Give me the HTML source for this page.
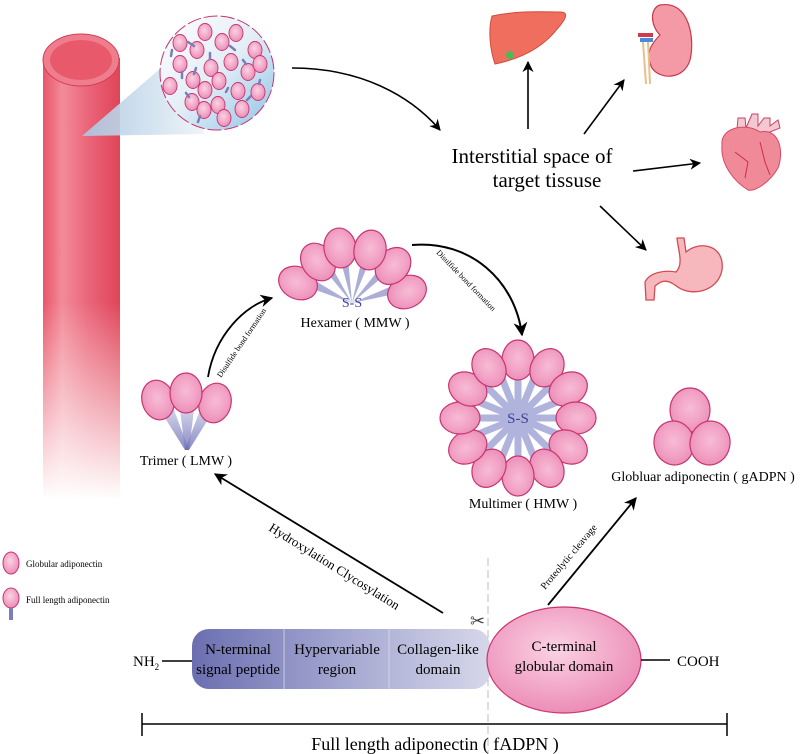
<!DOCTYPE html>
<html><head><meta charset="utf-8"><style>
html,body{margin:0;padding:0;background:#fff;}
svg{display:block;font-family:"Liberation Serif",serif;}
</style></head><body>
<svg width="800" height="754" viewBox="0 0 800 754" xmlns="http://www.w3.org/2000/svg">
<defs>
<radialGradient id="pk" cx="50%" cy="45%" r="55%"><stop offset="0" stop-color="#f7bcd5"/><stop offset="0.6" stop-color="#f2a3c6"/><stop offset="1" stop-color="#eb8fb9"/></radialGradient>
<radialGradient id="pk2" cx="45%" cy="40%" r="60%"><stop offset="0" stop-color="#fbd3e3"/><stop offset="1" stop-color="#ec8db8"/></radialGradient>
<linearGradient id="vessel" x1="0" x2="1"><stop offset="0" stop-color="#e9556a"/><stop offset="0.25" stop-color="#f28b98"/><stop offset="0.6" stop-color="#ea6478"/><stop offset="1" stop-color="#e04458"/></linearGradient>
<linearGradient id="fade" x1="0" y1="0" x2="0" y2="1"><stop offset="0" stop-color="#fff" stop-opacity="0"/><stop offset="0.55" stop-color="#fff" stop-opacity="0"/><stop offset="1" stop-color="#fff" stop-opacity="1"/></linearGradient>
<linearGradient id="zoomg" x1="0" y1="0" x2="1" y2="1"><stop offset="0" stop-color="#fff"/><stop offset="0.5" stop-color="#e3eef6"/><stop offset="1" stop-color="#8cc3e6"/></linearGradient>
<linearGradient id="cone" x1="0" x2="1"><stop offset="0" stop-color="#a9c8e2"/><stop offset="1" stop-color="#eef3f8"/></linearGradient>
<linearGradient id="bar" x1="0" x2="1"><stop offset="0" stop-color="#6b6fb0"/><stop offset="0.5" stop-color="#a3a6d0"/><stop offset="1" stop-color="#d6d7ea"/></linearGradient>
<linearGradient id="stem" x1="0" y1="0" x2="0" y2="1"><stop offset="0" stop-color="#c5c7e4"/><stop offset="1" stop-color="#6d6fb5"/></linearGradient>
<marker id="ah" viewBox="0 0 10 10" refX="9" refY="5" markerWidth="7" markerHeight="7" orient="auto"><path d="M0,0 L10,5 L0,10 L3,5 z" fill="#000"/></marker>
<g id="lobe"><ellipse cx="0" cy="0" rx="16" ry="20" fill="url(#pk)" stroke="#c8356f" stroke-width="1.2"/></g>
<g id="blobe"><ellipse cx="0" cy="0" rx="20" ry="22" fill="url(#pk)" stroke="#c8356f" stroke-width="1.2"/></g>
<g id="sm"><ellipse cx="0" cy="0" rx="7" ry="8.5" fill="url(#pk2)" stroke="#c8356f" stroke-width="0.9"/></g>
</defs>

<rect x="43" y="58" width="77" height="440" fill="url(#vessel)"/>
<rect x="40" y="58" width="83" height="442" fill="url(#fade)"/>
<ellipse cx="81" cy="60" rx="38" ry="26" fill="#ee7e8d" stroke="#d53c52" stroke-width="1"/>
<ellipse cx="81" cy="60" rx="31" ry="20" fill="#e9596c"/>
<polygon points="82,136 168,62 205,134" fill="url(#cone)" opacity="0.9"/>
<circle cx="217" cy="73" r="57" fill="url(#zoomg)" stroke="#c8356f" stroke-width="1" stroke-dasharray="14 3"/>
<g>
<use href="#sm" x="205" y="32"/><use href="#sm" x="236" y="33"/><use href="#sm" x="180" y="43"/><use href="#sm" x="197" y="50"/><use href="#sm" x="222" y="42"/><use href="#sm" x="255" y="50"/>
<use href="#sm" x="180" y="64"/><use href="#sm" x="211" y="68"/><use href="#sm" x="231" y="62"/><use href="#sm" x="248" y="72"/><use href="#sm" x="260" y="64"/>
<use href="#sm" x="170" y="86"/><use href="#sm" x="193" y="80"/><use href="#sm" x="205" y="90"/><use href="#sm" x="219" y="81"/><use href="#sm" x="238" y="91"/><use href="#sm" x="258" y="92"/>
<use href="#sm" x="192" y="102"/><use href="#sm" x="204" y="110"/><use href="#sm" x="218" y="105"/><use href="#sm" x="242" y="109"/><use href="#sm" x="224" y="118"/>
<g stroke="#7b7fb8" stroke-width="2.5" stroke-linecap="round"><line x1="188" y1="42" x2="194" y2="46"/><line x1="210" y1="53" x2="210" y2="59"/><line x1="230" y1="46" x2="235" y2="50"/><line x1="172" y1="50" x2="171" y2="56"/><line x1="243" y1="60" x2="246" y2="64"/><line x1="182" y1="72" x2="182" y2="78"/><line x1="196" y1="68" x2="194" y2="74"/><line x1="228" y1="88" x2="226" y2="92"/><line x1="251" y1="96" x2="247" y2="100"/><line x1="186" y1="93" x2="189" y2="97"/><line x1="200" y1="116" x2="198" y2="122"/><line x1="260" y1="80" x2="259" y2="84"/></g>
</g>
<path d="M292,68 C360,68 410,95 440,130" fill="none" stroke="#000" stroke-width="1.6" marker-end="url(#ah)"/>

<text x="532" y="163" font-size="21" text-anchor="middle">Interstitial space of</text>
<text x="547" y="187" font-size="21" text-anchor="middle">target tissuse</text>
<g stroke="#000" stroke-width="1.6" fill="none" marker-end="url(#ah)">
<line x1="528" y1="129" x2="528" y2="62"/>
<line x1="584" y1="134" x2="624" y2="80"/>
<line x1="633" y1="171" x2="700" y2="163"/>
<line x1="600" y1="206" x2="646" y2="250"/>
</g>
<path d="M492,16 C520,10 545,12 560,12 C570,12 565,20 558,28 C545,45 525,58 495,64 C490,50 488,30 492,16 z" fill="#ef6e5e" stroke="#d24a3c" stroke-width="1"/>
<circle cx="510" cy="55" r="4" fill="#4cb85a"/>
<path d="M660,5 C690,0 695,40 690,60 C684,80 660,80 652,68 C645,55 650,45 660,35 C650,25 650,8 660,5 z" fill="#f49aa6" stroke="#c9374a" stroke-width="1.2"/>
<rect x="638" y="33" width="15" height="4" fill="#d23a4c"/><rect x="640" y="38" width="13" height="4" fill="#4a8ad8"/>
<path d="M643,42 L646,84 M648,42 L650,84" stroke="#e8c08a" stroke-width="2"/>
<path d="M736,140 L738,118 L745,118 L746,128 L752,114 L758,114 L758,126 L764,118 L770,118 L770,126 L778,120 L780,128 L760,136 Z" fill="#f3c8d3" stroke="#c94060" stroke-width="1"/>
<path d="M722,145 C720,128 745,122 760,132 C780,128 784,152 778,168 C770,182 755,192 748,190 C735,182 720,165 722,145 z" fill="#f08a99" stroke="#d44a60" stroke-width="1"/>
<path d="M735,152 L748,162 L745,178 M760,142 L765,162 L770,175" stroke="#c9304a" stroke-width="1" fill="none"/>
<path d="M677,238 L684,238 L686,252 C700,240 725,245 722,270 C718,292 690,298 675,285 C665,278 660,282 655,286 L654,300 L646,300 L645,282 C650,272 665,270 676,272 C684,264 678,250 677,238 z" fill="#f7b8bd" stroke="#d34a55" stroke-width="1.3"/>

<g>
<polygon points="160,410 174,410 189,450 185,450" fill="url(#stem)" opacity="0.8"/>
<polygon points="180,410 194,410 189,450 185,450" fill="url(#stem)" opacity="0.8"/>
<polygon points="200,410 214,410 189,450 185,450" fill="url(#stem)" opacity="0.8"/>
<use href="#lobe" transform="translate(158,400) rotate(-15)"/>
<use href="#lobe" transform="translate(215,403) rotate(15)"/>
<use href="#lobe" transform="translate(186,393)"/>
</g>
<text x="186" y="465" font-size="14" text-anchor="middle">Trimer ( LMW )</text>

<g>
<g fill="#9ea1d2" opacity="0.85">
<polygon points="310,288 314,280 352,303"/><polygon points="323,268 330,264 352,303"/><polygon points="340,258 348,258 352,303"/><polygon points="362,258 370,260 352,303"/><polygon points="380,268 386,274 352,303"/><polygon points="392,286 395,294 352,303"/>
</g>
<use href="#lobe" transform="translate(298,283) rotate(-65)"/>
<use href="#lobe" transform="translate(407,292) rotate(65)"/>
<use href="#lobe" transform="translate(318,262) rotate(-35)"/>
<use href="#lobe" transform="translate(393,266) rotate(40)"/>
<use href="#lobe" transform="translate(340,248) rotate(-8)"/>
<use href="#lobe" transform="translate(370,250) rotate(10)"/>
<text x="352" y="307" font-size="14" fill="#3e4294" text-anchor="middle">S-S</text>
</g>
<text x="355" y="327" font-size="14" text-anchor="middle">Hexamer ( MMW )</text>
<path d="M412,245 C470,240 515,280 522,335" fill="none" stroke="#000" stroke-width="2" marker-end="url(#ah)"/>
<text transform="translate(436,253) rotate(46)" font-size="8">Disulfide bond formation</text>
<path d="M208,377 C215,335 245,305 272,298" fill="none" stroke="#000" stroke-width="1.8" marker-end="url(#ah)"/>
<text transform="translate(221,378) rotate(-56)" font-size="8">Disulfide bond formation</text>

<g transform="translate(518,418)">
<g stroke="#a3a6d6" stroke-width="7" opacity="0.85">
<line x1="-45" y1="0" x2="45" y2="0"/><line x1="0" y1="-45" x2="0" y2="45"/><line x1="-32" y1="-32" x2="32" y2="32"/><line x1="-32" y1="32" x2="32" y2="-32"/>
<line x1="-42" y1="-17" x2="42" y2="17"/><line x1="-42" y1="17" x2="42" y2="-17"/><line x1="-17" y1="-42" x2="17" y2="42"/><line x1="-17" y1="42" x2="17" y2="-42"/>
</g>
<use href="#lobe" transform="rotate(0) translate(0,-58)"/>
<use href="#lobe" transform="rotate(30) translate(0,-58)"/>
<use href="#lobe" transform="rotate(60) translate(0,-58)"/>
<use href="#lobe" transform="rotate(90) translate(0,-58)"/>
<use href="#lobe" transform="rotate(120) translate(0,-58)"/>
<use href="#lobe" transform="rotate(150) translate(0,-58)"/>
<use href="#lobe" transform="rotate(180) translate(0,-58)"/>
<use href="#lobe" transform="rotate(210) translate(0,-58)"/>
<use href="#lobe" transform="rotate(240) translate(0,-58)"/>
<use href="#lobe" transform="rotate(270) translate(0,-58)"/>
<use href="#lobe" transform="rotate(300) translate(0,-58)"/>
<use href="#lobe" transform="rotate(330) translate(0,-58)"/>
<text x="0" y="5" font-size="15" fill="#3e4294" text-anchor="middle">S-S</text>
</g>
<text x="523" y="508" font-size="14" text-anchor="middle">Multimer ( HMW )</text>

<use href="#blobe" transform="translate(690,410)"/>
<use href="#blobe" transform="translate(674,443) rotate(-10)"/>
<use href="#blobe" transform="translate(710,443) rotate(10)"/>
<text x="703" y="481" font-size="14" text-anchor="middle">Globluar adiponectin ( gADPN )</text>

<ellipse cx="11" cy="563" rx="8" ry="11" fill="url(#pk2)" stroke="#c8356f" stroke-width="1"/>
<text x="26" y="567" font-size="9">Globular adiponectin</text>
<ellipse cx="11" cy="598" rx="8" ry="10" fill="url(#pk2)" stroke="#c8356f" stroke-width="1"/>
<line x1="11" y1="608" x2="11" y2="620" stroke="#7b7fb8" stroke-width="4"/>
<text x="26" y="603" font-size="9">Full length adiponectin</text>

<line x1="443" y1="613" x2="215" y2="474" stroke="#000" stroke-width="1.8" marker-end="url(#ah)"/>
<text transform="translate(268,530) rotate(32)" font-size="13">Hydroxylation Clycosylation</text>
<line x1="548" y1="605" x2="636" y2="498" stroke="#000" stroke-width="1.8" marker-end="url(#ah)"/>
<text transform="translate(545,590) rotate(-50)" font-size="10">Proteolytic cleavage</text>
<line x1="488" y1="558" x2="488" y2="754" stroke="#bbb" stroke-width="1" stroke-dasharray="8 4"/>
<text x="470" y="627" font-size="18" fill="#444">✂</text>

<line x1="162" y1="661" x2="194" y2="661" stroke="#000" stroke-width="1.5"/>
<rect x="192" y="629" width="298" height="60" rx="17" fill="url(#bar)"/>
<line x1="284" y1="629" x2="284" y2="689" stroke="#d8d9ec" stroke-width="0.8"/>
<line x1="389" y1="629" x2="389" y2="689" stroke="#d8d9ec" stroke-width="0.8"/>
<g font-size="15" text-anchor="middle">
<text x="238" y="654">N-terminal</text><text x="238" y="674">signal peptide</text>
<text x="337" y="654">Hypervariable</text><text x="337" y="674">region</text>
<text x="438" y="654">Collagen-like</text><text x="438" y="674">domain</text>
</g>
<ellipse cx="564" cy="660" rx="77" ry="53" fill="url(#pk2)" stroke="#c8356f" stroke-width="1.2"/>
<text x="564" y="651" font-size="15" text-anchor="middle">C-terminal</text>
<text x="564" y="671" font-size="15" text-anchor="middle">globular domain</text>
<line x1="641" y1="660" x2="670" y2="660" stroke="#000" stroke-width="1.5"/>
<text x="133" y="666" font-size="15">NH<tspan font-size="9" dy="4">2</tspan></text>
<text x="677" y="666" font-size="15">COOH</text>
<line x1="142" y1="724" x2="727" y2="724" stroke="#000" stroke-width="1.5"/>
<line x1="142" y1="713" x2="142" y2="736" stroke="#000" stroke-width="1.5"/>
<line x1="727" y1="713" x2="727" y2="736" stroke="#000" stroke-width="1.5"/>
<text x="435" y="750" font-size="18" text-anchor="middle">Full length adiponectin ( fADPN )</text>
</svg>
</body></html>
